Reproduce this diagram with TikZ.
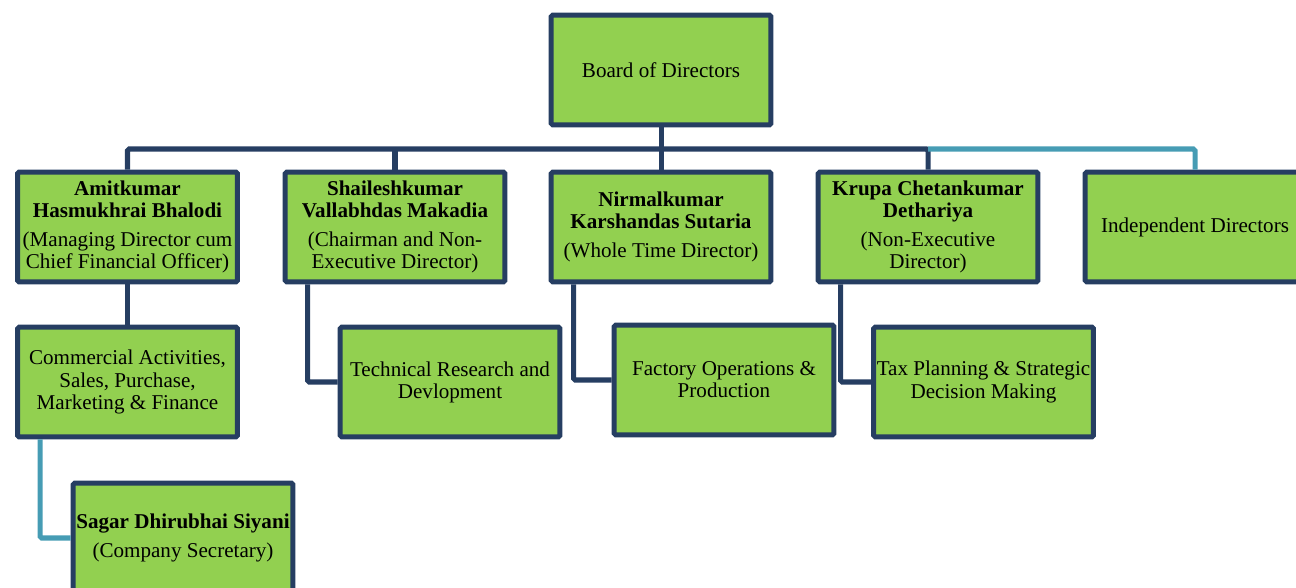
\documentclass[tikz,border=0pt]{standalone}
\usepackage{fontspec}
\setmainfont{Liberation Serif}
\usepackage{xcolor}
\definecolor{leaf}{RGB}{146,208,80}
\definecolor{frame}{RGB}{38,62,98}
\definecolor{assist}{RGB}{70,156,180}
\newcommand{\orgfont}{\fontsize{12}{12.6}\selectfont}
\tikzstyle{box}=[draw=frame, fill=leaf, line width=2.85pt, rounded corners=1pt,
  minimum width=4.40cm, minimum height=2.20cm, align=center, inner sep=0pt,
  font=\orgfont]
\tikzstyle{link}=[draw=frame, line width=2.85pt, rounded corners=1pt]
\tikzstyle{assistlink}=[draw=assist, line width=2.85pt, rounded corners=1pt]

\begin{document}
\begin{tikzpicture}[x=0.02cm,y=-0.02cm]
  \useasboundingbox (0,0) rectangle (1296,588);
  \draw (661,70) node[box] (board) {Board of Directors};

  \draw (127.5,227) node[box] (D1) {\textbf{Amitkumar}\\\textbf{Hasmukhrai Bhalodi}\\[4pt](Managing Director cum\\Chief Financial Officer)};
  \draw (395,227) node[box] (D2) {\textbf{Shaileshkumar}\\\textbf{Vallabhdas Makadia}\\[4pt](Chairman and Non-\\Executive Director)};
  \draw (661,227) node[box] (D3) {\textbf{Nirmalkumar}\\\textbf{Karshandas Sutaria}\\[4pt](Whole Time Director)};
  \draw (928,227) node[box] (D4) {\textbf{Krupa Chetankumar}\\\textbf{Dethariya}\\[4pt](Non-Executive\\Director)};
  \draw (1195,227) node[box] (D5) {Independent Directors};

  \draw (127.5,382) node[box] (F1) {Commercial Activities,\\Sales, Purchase,\\Marketing \& Finance};
  \draw (450,382) node[box] (F2) {Technical Research and\\Devlopment};
  \draw (724,380) node[box] (F3) {Factory Operations \&\\Production};
  \draw (983.5,382) node[box] (F4) {Tax Planning \& Strategic\\Decision Making};

  \draw (183,538) node[box] (S1) {\textbf{Sagar Dhirubhai Siyani}\\[4pt](Company Secretary)};

  %% board to directors
  \coordinate (bus) at (661,149);
  \draw[link] (board) -- (bus);
  \draw[link] (D1.north) |- (bus) -| (D4.north);
  \draw[link] (D2.north) -- (D2.north |- bus);
  \draw[link] (D3.north) -- (bus);
  \draw[assistlink] (D4.north |- bus) -| (D5.north);

  %% directors to functions
  \draw[link] (D1) -- (F1);
  \draw[link] ([xshift=0.5cm]D2.south west) |- (F2.west);
  \draw[link] ([xshift=0.5cm]D3.south west) |- (F3.west);
  \draw[link] ([xshift=0.5cm]D4.south west) |- (F4.west);
  \draw[assistlink] ([xshift=0.5cm]F1.south west) |- (S1.west);
\end{tikzpicture}
\end{document}
